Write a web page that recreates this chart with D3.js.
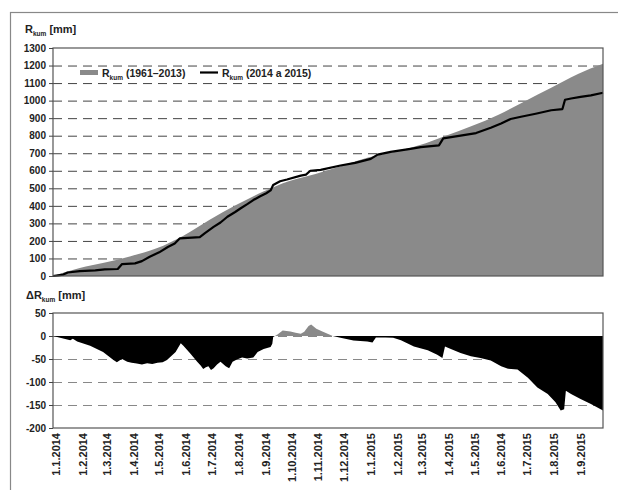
<!DOCTYPE html>
<html><head><meta charset="utf-8">
<script src="https://cdn.jsdelivr.net/npm/d3@7"></script>
<style>
html,body{margin:0;padding:0;background:#fff;}
svg{display:block;font-family:"Liberation Sans",Arial,sans-serif;}
</style></head>
<body>
<svg id="c" width="618" height="490"></svg>
<script>
// ---- data ----
const normalDates = ["2014-01-01","2014-02-01","2014-03-01","2014-04-01","2014-05-01","2014-06-01","2014-07-01","2014-08-01","2014-09-01","2014-10-01","2014-11-01","2014-12-01","2015-01-01","2015-02-01","2015-03-01","2015-04-01","2015-05-01","2015-06-01","2015-07-01","2015-08-01","2015-09-01","2015-09-30"];
const normalValues = [0,45,75,113,158,230,320,405,480,540,582,627,675,708,745,800,855,920,995,1073,1152,1210];

const actualDates = ["2014-01-01","2014-01-07","2014-01-13","2014-01-18","2014-02-01","2014-02-19","2014-03-02","2014-03-17","2014-03-22","2014-04-06","2014-04-14","2014-04-23","2014-05-04","2014-05-14","2014-05-22","2014-05-28","2014-06-20","2014-06-26","2014-07-06","2014-07-14","2014-07-22","2014-07-31","2014-08-06","2014-08-14","2014-08-21","2014-08-29","2014-09-05","2014-09-10","2014-09-13","2014-09-21","2014-09-29","2014-10-15","2014-10-21","2014-10-26","2014-11-07","2014-11-30","2014-12-17","2015-01-04","2015-01-12","2015-01-27","2015-02-19","2015-03-03","2015-03-24","2015-03-29","2015-04-18","2015-05-06","2015-05-23","2015-06-04","2015-06-15","2015-06-27","2015-07-14","2015-08-01","2015-08-14","2015-08-17","2015-08-24","2015-09-04","2015-09-16","2015-09-30"];
const actualValues = [0,4,8,20,28,32,38,40,68,72,85,110,135,165,185,215,222,245,280,305,338,365,385,410,433,455,472,488,519,540,550,572,578,600,605,630,645,668,692,708,725,735,745,785,800,815,845,870,895,908,925,945,952,1005,1012,1021,1030,1045];

const deltaDates = ["2014-01-01","2014-01-21","2014-01-24","2014-01-29","2014-02-13","2014-02-28","2014-03-12","2014-03-16","2014-03-19","2014-03-22","2014-03-28","2014-04-02","2014-04-08","2014-04-14","2014-04-20","2014-04-26","2014-05-02","2014-05-08","2014-05-13","2014-05-19","2014-05-23","2014-05-29","2014-06-01","2014-06-09","2014-06-17","2014-06-21","2014-06-24","2014-06-27","2014-06-30","2014-07-03","2014-07-06","2014-07-10","2014-07-14","2014-07-20","2014-07-24","2014-07-28","2014-08-02","2014-08-08","2014-08-14","2014-08-21","2014-08-26","2014-09-02","2014-09-10","2014-09-12","2014-09-13","2014-09-18","2014-09-24","2014-10-03","2014-10-09","2014-10-15","2014-10-19","2014-10-24","2014-10-27","2014-11-02","2014-11-09","2014-11-15","2014-11-21","2014-11-30","2014-12-15","2014-12-31","2015-01-06","2015-01-10","2015-01-21","2015-01-30","2015-02-08","2015-02-23","2015-03-11","2015-03-22","2015-03-28","2015-03-31","2015-04-04","2015-04-18","2015-04-30","2015-05-11","2015-05-23","2015-06-04","2015-06-12","2015-06-23","2015-07-05","2015-07-16","2015-07-28","2015-08-06","2015-08-12","2015-08-16","2015-08-18","2015-08-24","2015-09-04","2015-09-16","2015-09-30"];
const deltaValues = [0,-9,-6,-12,-21,-35,-52,-57,-53,-50,-56,-58,-60,-62,-59,-61,-58,-57,-52,-42,-35,-16,-21,-38,-56,-64,-72,-68,-66,-74,-70,-62,-56,-66,-70,-56,-51,-47,-49,-47,-35,-28,-24,-17,-2,3,12,10,7,5,9,22,25,16,10,5,0,-4,-10,-12,-14,-3,-3,-4,-9,-23,-31,-41,-48,-23,-26,-37,-44,-48,-53,-66,-71,-73,-91,-112,-126,-144,-162,-159,-119,-126,-137,-148,-162];

const monthTickDates = ["2014-01-01","2014-02-01","2014-03-01","2014-04-01","2014-05-01","2014-06-01","2014-07-01","2014-08-01","2014-09-01","2014-10-01","2014-11-01","2014-12-01","2015-01-01","2015-02-01","2015-03-01","2015-04-01","2015-05-01","2015-06-01","2015-07-01","2015-08-01","2015-09-01"];
const monthTickLabels = ["1.1.2014","1.2.2014","1.3.2014","1.4.2014","1.5.2014","1.6.2014","1.7.2014","1.8.2014","1.9.2014","1.10.2014","1.11.2014","1.12.2014","1.1.2015","1.2.2015","1.3.2015","1.4.2015","1.5.2015","1.6.2014","1.7.2015","1.8.2015","1.9.2015"];
const topTicks = [0,100,200,300,400,500,600,700,800,900,1000,1100,1200,1300];
const bottomTicks = [50,0,-50,-100,-150,-200];
const legendLabels = ["(1961–2013)","(2014 a 2015)"];

// ---- drawing ----
const parse = d3.utcParse("%Y-%m-%d");
const svg = d3.select("#c");
const L = 53, R = 603;
const x = d3.scaleUtc().domain([parse("2014-01-01"), parse("2015-09-30")]).range([L, R]);
const yT = d3.scaleLinear().domain([0,1300]).range([276,48]);
const yB = d3.scaleLinear().domain([-200,50]).range([428,313]);

const normal = normalDates.map((d,i)=>({d:parse(d), v:normalValues[i]}));
const actual = actualDates.map((d,i)=>({d:parse(d), v:actualValues[i]}));
const delta = deltaDates.map((d,i)=>({d:parse(d), v:deltaValues[i]}));

// outer frame
svg.append("rect").attr("x",10.5).attr("y",12.5).attr("width",640).attr("height",500)
  .attr("fill","none").attr("stroke","#888").attr("stroke-width",1.2);

const GRAY = "#8a8a8a";

// ===== top panel =====
const gTop = svg.append("g");
gTop.selectAll("line.grid").data(topTicks.filter(t=>t>0 && t<1300)).join("line")
  .attr("x1",L).attr("x2",R).attr("y1",d=>yT(d)+0.5).attr("y2",d=>yT(d)+0.5)
  .attr("stroke","#444").attr("stroke-width",1).attr("stroke-dasharray","9,6");
gTop.append("path").datum(normal)
  .attr("d", d3.area().x(p=>x(p.d)).y0(yT(0)).y1(p=>yT(p.v)).curve(d3.curveMonotoneX))
  .attr("fill", GRAY);
gTop.append("path").datum(actual)
  .attr("d", d3.line().x(p=>x(p.d)).y(p=>yT(p.v)))
  .attr("fill","none").attr("stroke","#000").attr("stroke-width",2.2).attr("stroke-linejoin","round");
gTop.append("rect").attr("x",L).attr("y",yT(1300)).attr("width",R-L).attr("height",yT(0)-yT(1300))
  .attr("fill","none").attr("stroke","#555").attr("stroke-width",1.2);
const axT = gTop.append("g").attr("transform",`translate(${L},0)`)
  .call(d3.axisLeft(yT).tickValues(topTicks).tickSize(4).tickPadding(3).tickFormat(d=>String(d)));
axT.select(".domain").remove();
axT.selectAll("line").attr("stroke","#444");
axT.selectAll("text").attr("font-size",10).attr("font-weight","bold").attr("fill","#222");

// y title top
const tt = svg.append("text").attr("x",25).attr("y",33).attr("font-size",11).attr("font-weight","bold").attr("fill","#222");
tt.append("tspan").text("R");
tt.append("tspan").attr("dy",3).attr("font-size",6.5).text("kum");
tt.append("tspan").attr("dy",-3).text(" [mm]");

// legend
const lg = svg.append("g").attr("font-size",10.5).attr("font-weight","bold").attr("fill","#222");
lg.append("rect").attr("x",80).attr("y",70).attr("width",18).attr("height",5).attr("fill",GRAY);
const l1 = lg.append("text").attr("x",102).attr("y",77);
l1.append("tspan").text("R");
l1.append("tspan").attr("dy",3).attr("font-size",6.5).text("kum");
l1.append("tspan").attr("dy",-3).text(" " + legendLabels[0]);
lg.append("line").attr("x1",200).attr("x2",218).attr("y1",72.5).attr("y2",72.5).attr("stroke","#000").attr("stroke-width",2.2);
const l2 = lg.append("text").attr("x",222).attr("y",77);
l2.append("tspan").text("R");
l2.append("tspan").attr("dy",3).attr("font-size",6.5).text("kum");
l2.append("tspan").attr("dy",-3).text(" " + legendLabels[1]);

// ===== bottom panel =====
const gBot = svg.append("g");
const defs = svg.append("defs");
defs.append("clipPath").attr("id","neg").append("rect").attr("x",L).attr("y",yB(0)).attr("width",R-L).attr("height",yB(-200)-yB(0));
defs.append("clipPath").attr("id","pos").append("rect").attr("x",L).attr("y",yB(50)).attr("width",R-L).attr("height",yB(0)-yB(50));
const dArea = d3.area().x(p=>x(p.d)).y0(yB(0)).y1(p=>yB(p.v));
gBot.selectAll("line.grid").data(bottomTicks.filter(t=>t<50 && t>-200)).join("line")
  .attr("x1",L).attr("x2",R).attr("y1",d=>yB(d)+0.5).attr("y2",d=>yB(d)+0.5)
  .attr("stroke","#888").attr("stroke-width",1).attr("stroke-dasharray","9,6");
gBot.append("path").datum(delta).attr("d",dArea).attr("fill","#000").attr("clip-path","url(#neg)");
gBot.append("path").datum(delta).attr("d",dArea).attr("fill",GRAY).attr("clip-path","url(#pos)");
gBot.append("rect").attr("x",L).attr("y",yB(50)).attr("width",R-L).attr("height",yB(-200)-yB(50))
  .attr("fill","none").attr("stroke","#555").attr("stroke-width",1.2);
const axB = gBot.append("g").attr("transform",`translate(${L},0)`)
  .call(d3.axisLeft(yB).tickValues(bottomTicks).tickSize(4).tickPadding(3).tickFormat(d=>String(d)));
axB.select(".domain").remove();
axB.selectAll("line").attr("stroke","#444");
axB.selectAll("text").attr("font-size",10).attr("font-weight","bold").attr("fill","#222");

const bt = svg.append("text").attr("x",26).attr("y",299).attr("font-size",11).attr("font-weight","bold").attr("fill","#222");
bt.append("tspan").text("ΔR");
bt.append("tspan").attr("dy",3).attr("font-size",6.5).text("kum");
bt.append("tspan").attr("dy",-3).text(" [mm]");

// x labels
svg.append("g").selectAll("text").data(monthTickDates).join("text")
  .attr("transform",(d)=>`translate(${x(parse(d))+3},433) rotate(-90)`)
  .attr("text-anchor","end").attr("dy","0.35em")
  .attr("font-size",11).attr("font-weight","bold").attr("fill","#222")
  .text((d,i)=>monthTickLabels[i]);
</script>
</body></html>
